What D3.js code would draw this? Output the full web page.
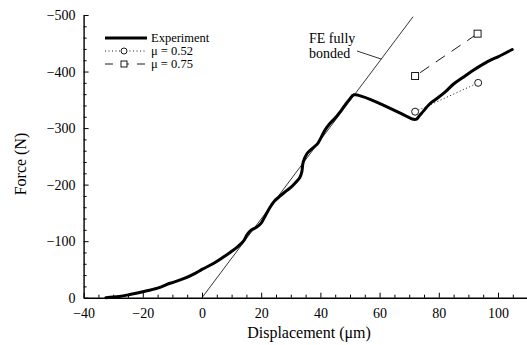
<!DOCTYPE html>
<html><head><meta charset="utf-8">
<script src="https://cdn.jsdelivr.net/npm/d3@7"></script>
<style>
html,body{margin:0;padding:0;background:#fff;}
svg text{font-family:"Liberation Serif","Times New Roman",serif !important;fill:#000;}
</style></head>
<body><svg id="c" width="527" height="345"></svg>
<script>
// ---- data ----
const expDisp = [-32.5,-28,-24,-20,-15,-10.8,-6,-2,0,4,7,9.5,12,14,15.3,16.5,18.5,20,21.5,23,24.5,26,28,30,31.5,33,33.7,34.2,35.5,37,39,40.3,41.5,43.2,45,47,48.5,50,51.4,69.5,71,72.5,73.5,74.8,77,79,82,85,88,91,94,97,100,104.8];
const expForce = [0,-2,-6,-10.5,-17,-25.5,-34,-44,-50,-61,-71,-80,-90,-100,-112,-119,-125,-132,-146,-160,-171,-178,-187,-195,-203,-212,-222,-240,-255,-263,-272,-284,-296,-308,-318,-331,-342,-352,-359,-320,-316,-316,-322,-330,-343,-351,-363,-378,-389,-400,-410,-419,-426,-439];
const feDisp = [0, 71.3];
const feForce = [0, -497];
const mu052Disp = [72, 93.3];
const mu052Force = [-329, -380];
const mu075Disp = [72, 93.1];
const mu075Force = [-392, -467];
const xTicks = [-40,-20,0,20,40,60,80,100];
const yTicks = [0,-100,-200,-300,-400,-500];
const legendLabels = ["Experiment","\u03bc = 0.52","\u03bc = 0.75"];
const xTitle = "Displacement (\u03bcm)";
const yTitle = "Force (N)";
const feLabel = ["FE fully","bonded"];

// ---- layout ----
const FONT = '"Liberation Serif","Times New Roman",serif';
const svg = d3.select("#c");
const x = d3.scaleLinear().domain([-40,110]).range([83.6,527.6]);
const y = d3.scaleLinear().domain([0,-500]).range([297.7,15]);

const xMinor = d3.range(-40,111,5).filter(v=>v%20!==0);
const yMinor = d3.range(0,-501,-20).filter(v=>v%100!==0);

// minor ticks
svg.append("g").attr("transform",`translate(0,${y(0)})`)
  .call(d3.axisBottom(x).tickValues(xMinor).tickFormat("").tickSizeInner(-3).tickSizeOuter(0))
  .call(g=>{g.select(".domain").remove(); g.selectAll("line").attr("stroke-width",1);});
svg.append("g").attr("transform",`translate(${x(-40)},0)`)
  .call(d3.axisLeft(y).tickValues(yMinor).tickFormat("").tickSizeInner(-3).tickSizeOuter(0))
  .call(g=>{g.select(".domain").remove(); g.selectAll("line").attr("stroke-width",1);});

// major axes
const fmt = v => v===0 ? "0" : (v<0 ? "\u2212" : "") + Math.abs(v);
svg.append("g").attr("transform",`translate(0,${y(0)})`)
  .call(d3.axisBottom(x).tickValues(xTicks).tickFormat(fmt).tickSizeInner(-5).tickSizeOuter(0).tickPadding(10.5))
  .call(g=>{g.attr("font-family",FONT).attr("font-size",14);
    g.select(".domain").attr("stroke-width",1.4);
    g.selectAll("line").attr("stroke-width",1);
    g.selectAll("text").style("font-family",FONT).style("font-size","14px");});
svg.append("g").attr("transform",`translate(${x(-40)},0)`)
  .call(d3.axisLeft(y).tickValues(yTicks).tickFormat(fmt).tickSizeInner(-5).tickSizeOuter(0).tickPadding(8))
  .call(g=>{g.attr("font-family",FONT).attr("font-size",14);
    g.select(".domain").attr("stroke-width",1.4);
    g.selectAll("line").attr("stroke-width",1);
    g.selectAll("text").style("font-family",FONT).style("font-size","14px");});

// titles
svg.append("text").attr("x",309).attr("y",338).attr("text-anchor","middle").attr("font-size",16).text(xTitle);
svg.append("text").attr("transform","translate(26,164) rotate(-90)").attr("text-anchor","middle").attr("font-size",16).text(yTitle);

// FE line
const feData = feDisp.map((d,i)=>[d,feForce[i]]);
svg.append("path").datum(feData)
  .attr("d", d3.line().x(d=>x(d[0])).y(d=>y(d[1])))
  .attr("fill","none").attr("stroke","#000").attr("stroke-width",0.8);

// FE label
svg.append("text").attr("x",309).attr("y",43).attr("font-size",14).text(feLabel[0]);
svg.append("text").attr("x",309).attr("y",58).attr("font-size",14).text(feLabel[1]);
svg.append("line").attr("x1",357).attr("y1",51).attr("x2",x(60.6)).attr("y2",y(-422))
  .attr("stroke","#000").attr("stroke-width",0.8);

// mu lines
const m52 = mu052Disp.map((d,i)=>[d,mu052Force[i]]);
const m75 = mu075Disp.map((d,i)=>[d,mu075Force[i]]);
svg.append("path").datum(m52).attr("d", d3.line().x(d=>x(d[0])).y(d=>y(d[1])))
  .attr("fill","none").attr("stroke","#000").attr("stroke-width",0.9).attr("stroke-dasharray","1,2.5");
svg.append("path").datum(m75).attr("d", d3.line().x(d=>x(d[0])).y(d=>y(d[1])))
  .attr("fill","none").attr("stroke","#000").attr("stroke-width",0.9).attr("stroke-dasharray","11,8").attr("stroke-dashoffset",-6);

// experiment
const expData = expDisp.map((d,i)=>[d,expForce[i]]);
svg.append("path").datum(expData)
  .attr("d", d3.line().x(d=>x(d[0])).y(d=>y(d[1])).curve(d3.curveCatmullRom.alpha(0.5)))
  .attr("fill","none").attr("stroke","#000").attr("stroke-width",3).attr("stroke-linejoin","round").attr("stroke-linecap","round");

// markers
svg.selectAll("circle.m52").data(m52).join("circle").attr("class","m52")
  .attr("cx",d=>x(d[0])).attr("cy",d=>y(d[1])).attr("r",3.5)
  .attr("fill","#fff").attr("stroke","#000").attr("stroke-width",0.9);
svg.selectAll("rect.m75").data(m75).join("rect").attr("class","m75")
  .attr("x",d=>x(d[0])-3.5).attr("y",d=>y(d[1])-3.5).attr("width",7).attr("height",7)
  .attr("fill","#fff").attr("stroke","#000").attr("stroke-width",0.9);

// legend
const lg = svg.append("g");
const rows = [38, 51, 64];
lg.append("line").attr("x1",105).attr("x2",147).attr("y1",rows[0]).attr("y2",rows[0]).attr("stroke","#000").attr("stroke-width",3);
lg.append("line").attr("x1",105).attr("x2",147).attr("y1",rows[1]).attr("y2",rows[1]).attr("stroke","#000").attr("stroke-width",0.9).attr("stroke-dasharray","1,2.5");
lg.append("circle").attr("cx",124).attr("cy",rows[1]).attr("r",3).attr("fill","#fff").attr("stroke","#000").attr("stroke-width",0.9);
lg.append("line").attr("x1",105).attr("x2",147).attr("y1",rows[2]).attr("y2",rows[2]).attr("stroke","#000").attr("stroke-width",0.9).attr("stroke-dasharray","8,8");
lg.append("rect").attr("x",121).attr("y",rows[2]-3).attr("width",6).attr("height",6).attr("fill","#fff").attr("stroke","#000").attr("stroke-width",0.9);
legendLabels.forEach((t,i)=>{
  lg.append("text").attr("x",151).attr("y",rows[i]).attr("dy","0.33em").attr("font-size",12.5).text(t);
});
</script></body></html>
